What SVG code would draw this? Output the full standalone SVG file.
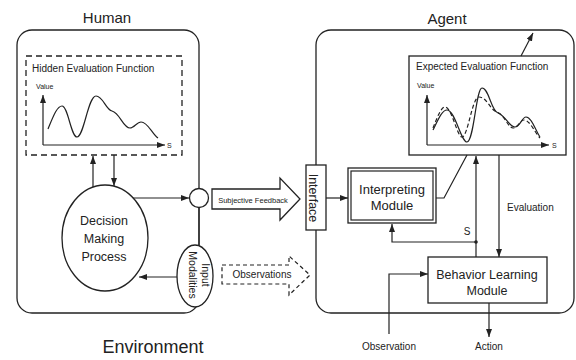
<svg xmlns="http://www.w3.org/2000/svg" width="576" height="360" viewBox="0 0 576 360">
<defs>
<marker id="ah" markerUnits="userSpaceOnUse" markerWidth="9" markerHeight="7" refX="8" refY="3" orient="auto">
<path d="M0,0 L8,3 L0,6 z" fill="#222"/>
</marker>
<style>
.ln{fill:none;stroke:#222;stroke-width:1.2}
.bx{fill:#fff;stroke:#222;stroke-width:1.3}
.ar{fill:none;stroke:#222;stroke-width:1.2;marker-end:url(#ah)}
text{font-family:"Liberation Sans",Arial,sans-serif;fill:#222}
.big{font-size:15px}
.mid{font-size:12.5px}
.sm{font-size:10px}
.xs{font-size:7px}
</style>
</defs>
<rect width="576" height="360" fill="#fff"/>

<text class="big" x="107" y="23" text-anchor="middle">Human</text>
<text class="big" x="447" y="23.5" text-anchor="middle">Agent</text>
<text x="153" y="353" text-anchor="middle" style="font-size:18px">Environment</text>

<g id="human">
<rect class="ln" x="17" y="30" width="182" height="283" rx="15" style="stroke-width:1.3"/>
</g>
<g id="agent">
<rect class="ln" x="316" y="30" width="258" height="283" rx="15" style="stroke-width:1.3"/>
</g>

<g id="hidden-eval">
<rect x="26" y="56" width="156" height="99" fill="#fff" stroke="#222" stroke-width="1.3" stroke-dasharray="6,4"/>
<text class="sm" x="32" y="72">Hidden Evaluation Function</text>
<text class="xs" x="36" y="89">Value</text>
<text class="xs" x="167" y="147.5">S</text>
<path class="ar" d="M43,145 V95"/>
<path class="ar" d="M43,145 H165"/>
<path class="ln" d="M48,129 C53,117 57,106 62,106 C68,106 71,137 77,137 C84,137 88,96 96,96 C103,96 106,110 112,111 C120,113 123,128 130,128 C134,128 137,122 141,122 C148,122 152,134 158,138"/>
</g>

<g id="expected-eval">
<rect class="bx" x="409" y="56" width="157" height="99"/>
<text class="sm" x="416" y="69.5">Expected Evaluation Function</text>
<text class="xs" x="417" y="88">Value</text>
<text class="xs" x="552" y="147.5">S</text>
<path class="ar" d="M427,145 V95"/>
<path class="ar" d="M427,145 H549"/>
<path class="ln" d="M433,130 C438,120 442,110 447,110 C455,110 461,142 467,142 C474,142 476,88 482,88 C489,88 491,111 498,113 C506,116 509,127 515,127 C520,127 522,117 526,117 C532,117 536,132 540,137"/>
<path class="ln" stroke-dasharray="4,2.5" d="M433,128 C437,118 441,107 445,107 C452,107 457,137 462,137 C468,137 472,97 479,97 C487,97 490,110 497,112 C505,115 508,128 513,128 C518,128 520,120 524,120 C530,120 535,133 540,138"/>
</g>

<g id="connectors">
<path class="ar" d="M93,187 V156"/>
<path class="ar" d="M114,155 V186"/>
<path class="ar" d="M132,198 H189"/>
<path class="ln" d="M199,208 V245"/>
<path class="ar" d="M177,277 H139"/>
<path class="ar" d="M521,56 L533,33"/>
<path class="ar" d="M326,198 H348"/>
<path class="ln" d="M436,198 H444 L467,155"/>
<path class="ar" d="M476,257 V156"/>
<path class="ar" d="M476,242 H392 V224"/>
<circle cx="476" cy="242" r="1.8" fill="#222"/>
<path class="ar" d="M499,155 V257"/>
<path class="ar" d="M389,334 V274 H428"/>
<path class="ar" d="M489,303 V337"/>
<text class="sm" x="467" y="235" text-anchor="middle">S</text>
<text class="sm" x="507" y="211">Evaluation</text>
<text class="sm" x="389" y="350" text-anchor="middle">Observation</text>
<text class="sm" x="489" y="350" text-anchor="middle">Action</text>
</g>

<g id="decision">
<ellipse class="bx" cx="105" cy="238" rx="43" ry="53"/>
<text class="mid" x="104" y="225" text-anchor="middle">Decision</text>
<text class="mid" x="104" y="243" text-anchor="middle">Making</text>
<text class="mid" x="104" y="261" text-anchor="middle">Process</text>
</g>

<g id="junction">
<circle class="bx" cx="199" cy="198" r="9.5"/>
</g>

<g id="input-modalities">
<ellipse class="bx" cx="195" cy="276" rx="18" ry="31"/>
<g transform="translate(195,275) rotate(90)">
<text x="0" y="-6.5" text-anchor="middle" style="font-size:10.5px">Input</text>
<text x="0" y="6" text-anchor="middle" style="font-size:10.5px">Modalities</text>
</g>
</g>

<g id="subjective-feedback">
<polygon class="bx" points="212,189 280,189 280,178 300,199 280,220 280,209 212,209"/>
<text x="253" y="203" text-anchor="middle" style="font-size:7.5px">Subjective Feedback</text>
</g>

<g id="observations">
<polygon points="222,265 289,265 289,256 310,275 289,295 289,284 222,284" fill="#fff" stroke="#222" stroke-width="1.2" stroke-dasharray="4,3"/>
<text class="sm" x="262" y="278" text-anchor="middle">Observations</text>
</g>

<g id="interface">
<rect class="bx" x="306" y="165" width="20" height="65"/>
<g transform="translate(316,198) rotate(90)">
<text x="0" y="7" text-anchor="middle" style="font-size:12.5px">Interface</text>
</g>
</g>

<g id="interpreting">
<rect class="bx" x="348" y="168" width="88" height="55"/>
<rect class="ln" x="351" y="171" width="82" height="49"/>
<text class="mid" x="392" y="194" text-anchor="middle" style="font-size:13px">Interpreting</text>
<text class="mid" x="392" y="210" text-anchor="middle" style="font-size:13px">Module</text>
</g>

<g id="behavior">
<rect class="bx" x="428" y="257" width="119" height="46"/>
<text class="mid" x="487" y="279" text-anchor="middle">Behavior Learning</text>
<text class="mid" x="487" y="295" text-anchor="middle">Module</text>
</g>
</svg>
